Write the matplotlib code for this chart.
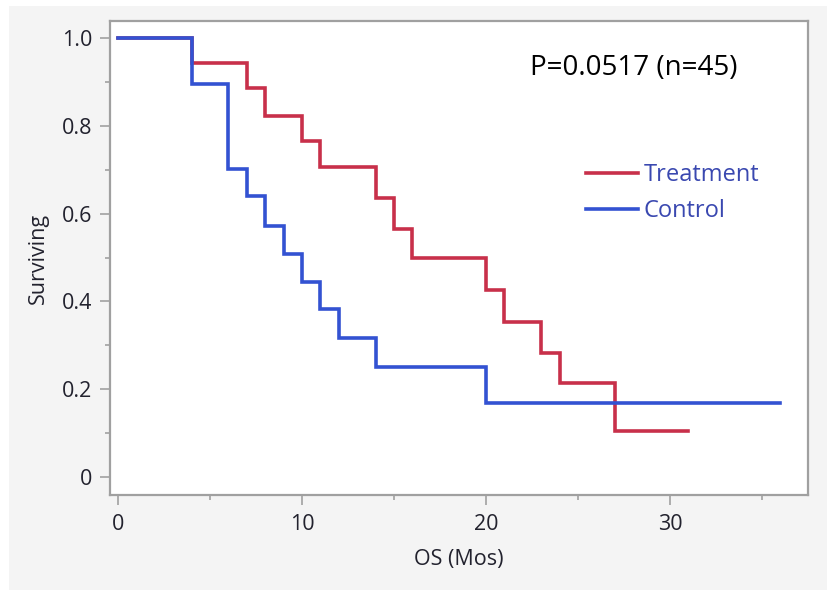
import matplotlib
matplotlib.use("Agg")
import matplotlib.pyplot as plt
from matplotlib.patches import Rectangle
from matplotlib.lines import Line2D
from matplotlib.ticker import MultipleLocator

# Kaplan-Meier step data (time in months, survival)
treat_t = [0, 4, 7, 8, 10, 11, 14, 15, 16, 20, 21, 23, 24, 27, 31]
treat_s = [1.0, 0.943, 0.886, 0.822, 0.765, 0.706, 0.635, 0.565, 0.500, 0.425, 0.353, 0.282, 0.214, 0.105, 0.105]
ctrl_t = [0, 4, 6, 7, 8, 9, 10, 11, 12, 14, 20, 36]
ctrl_s = [1.0, 0.895, 0.702, 0.640, 0.572, 0.508, 0.444, 0.383, 0.317, 0.251, 0.168, 0.168]
series_names = ["Treatment", "Control"]
x_ticks = [0, 10, 20, 30]
y_ticks = [0, 0.2, 0.4, 0.6, 0.8, 1.0]
y_ticklabels = ["0", "0.2", "0.4", "0.6", "0.8", "1.0"]
annotation = "P=0.0517 (n=45)"

RED = "#C8304A"
BLUE = "#3352D2"
GRID = "#A0A0A0"
TXT = "#22222e"

plt.rcParams['font.family'] = ['Open Sans', 'DejaVu Sans']

W, H = 827, 590
fig = plt.figure(figsize=(W / 100, H / 100), dpi=100, facecolor="white")
fig.add_artist(Rectangle((9 / W, 0), 1 - 9 / W, 1 - 6 / H, transform=fig.transFigure,
                         facecolor="#F4F4F4", edgecolor="none", zorder=-10))

L, R, T, B = 110, 808, 21, 495
ax = fig.add_axes([L / W, 1 - B / H, (R - L) / W, (B - T) / H])
ax.set_facecolor("white")

ax.step(treat_t, treat_s, where="post", color=RED, lw=2.6, zorder=3, solid_joinstyle="miter")
ax.step(ctrl_t, ctrl_s, where="post", color=BLUE, lw=2.6, zorder=4, solid_joinstyle="miter")

ax.set_xlim(-0.43, 37.5)
ax.set_ylim(-0.041, 1.039)

ax.set_xticks(x_ticks)
ax.set_yticks(y_ticks)
ax.set_yticklabels(y_ticklabels)
ax.xaxis.set_minor_locator(MultipleLocator(5))
ax.yaxis.set_minor_locator(MultipleLocator(0.1))
ax.tick_params(which="major", direction="out", length=7, width=1.2, color=GRID,
               labelsize=15.5, labelcolor=TXT)
ax.tick_params(which="minor", direction="out", length=3.5, width=1.2, color=GRID)
ax.tick_params(axis="x", which="major", pad=7)
ax.tick_params(axis="y", which="major", pad=6)
for s in ax.spines.values():
    s.set_color(GRID)
    s.set_linewidth(1.6)

ax.set_xlabel("OS (Mos)", fontsize=15.5, color=TXT, labelpad=10)
ax.set_ylabel("Surviving", fontsize=15.5, color=TXT, labelpad=9)

fig.text(634 / W, 1 - 68 / H, annotation, fontsize=20,
         color="black", ha="center", va="center")

handles = [Line2D([], [], color=RED, lw=2.6), Line2D([], [], color=BLUE, lw=2.6)]
leg = ax.legend(handles, series_names, loc="upper left",
                bbox_to_anchor=((586 - L) / (R - L), (B - 163) / (B - T)),
                frameon=False, fontsize=17, handlelength=2.2, handletextpad=0.25,
                labelspacing=0.5, borderaxespad=0, borderpad=0)
for t in leg.get_texts():
    t.set_color("#3A48B0")

fig.savefig("out.png", dpi=100, facecolor=fig.get_facecolor())
